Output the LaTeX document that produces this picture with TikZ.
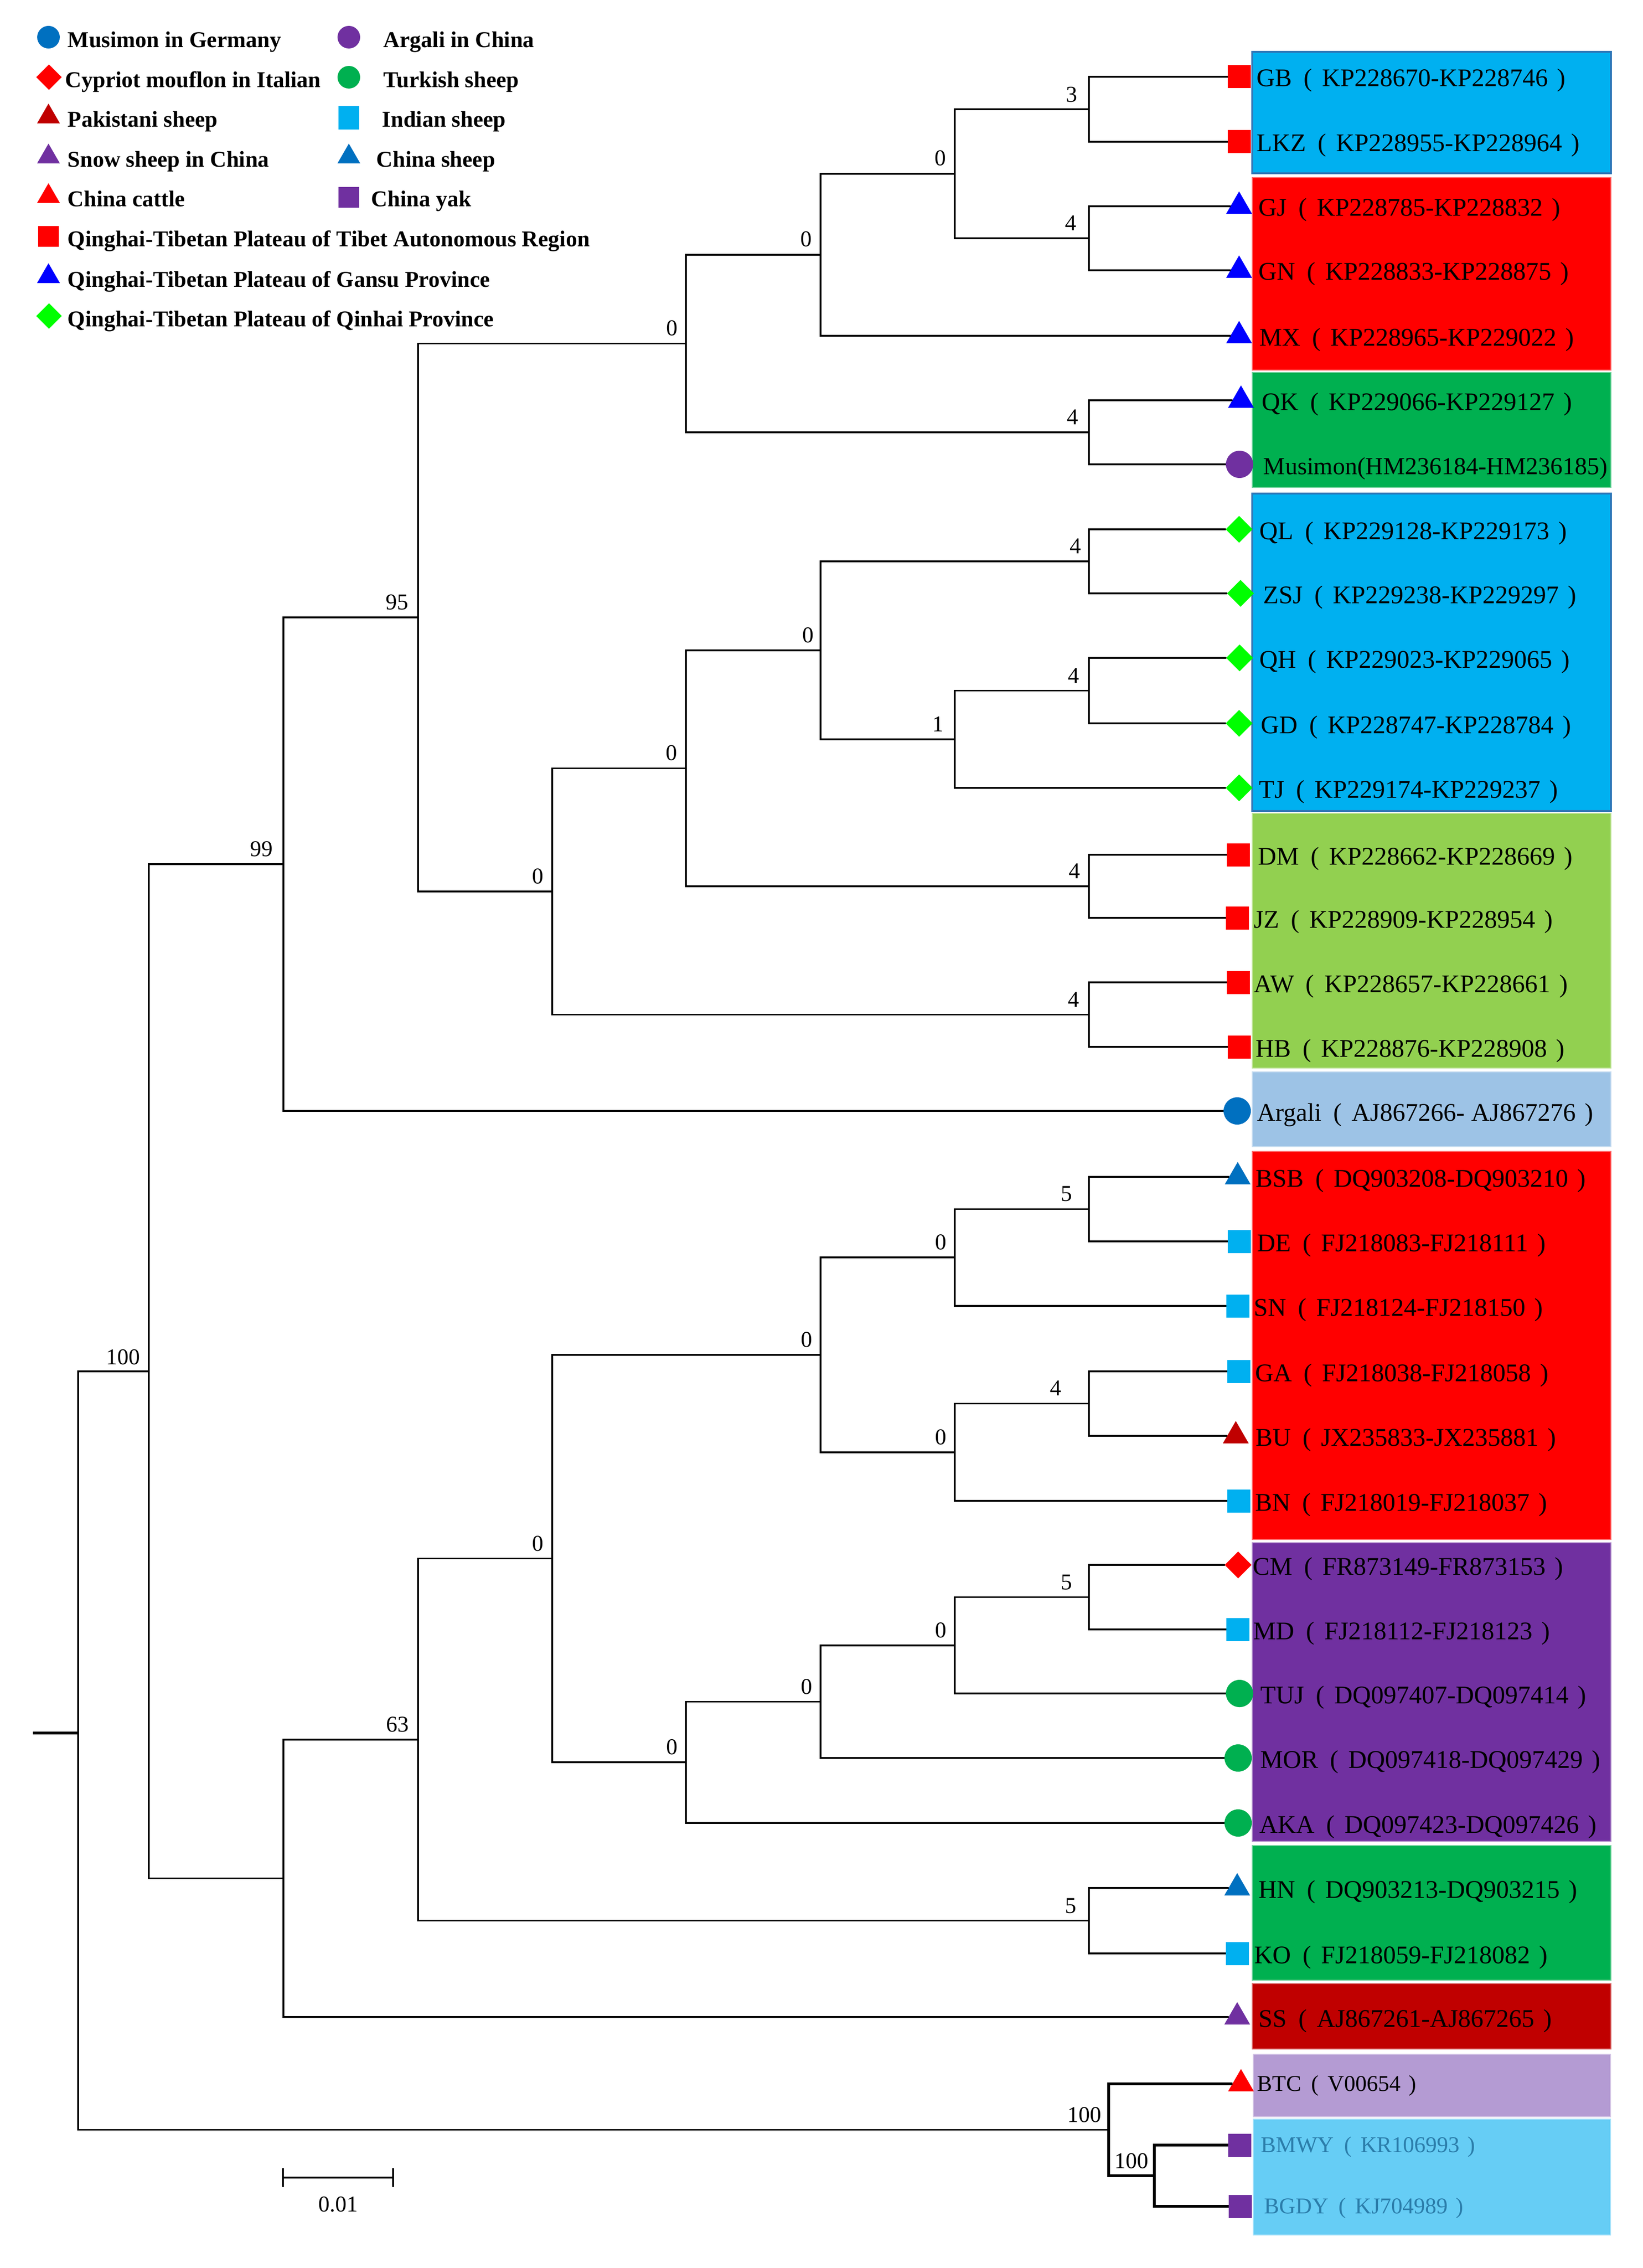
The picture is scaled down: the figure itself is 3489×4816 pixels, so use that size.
\documentclass[tikz,border=0pt]{standalone}
\usepackage{fontspec}
\setmainfont{Liberation Serif}
\usetikzlibrary{shapes.geometric}
\definecolor{cLegBlue}{HTML}{0070C0}
\definecolor{cPurple}{HTML}{7030A0}
\definecolor{cRed}{HTML}{FF0000}
\definecolor{cGreen}{HTML}{00B050}
\definecolor{cDarkRed}{HTML}{C00000}
\definecolor{cCyan}{HTML}{00B0F0}
\definecolor{cBlue}{HTML}{0000FF}
\definecolor{cLime}{HTML}{00FF00}
\definecolor{cYG}{HTML}{92D050}
\definecolor{cLightBlue}{HTML}{9DC3E6}
\definecolor{cLav}{HTML}{B49BD3}
\definecolor{cSky}{HTML}{66CDF5}
\definecolor{cTeal}{HTML}{2B7DAA}
\definecolor{cBorder}{HTML}{2E75B6}
\newcommand\myL{\hspace{0.45em}(\hspace{0.4em}}
\newcommand\myR{\hspace{0.35em})}
\begin{document}
\begin{tikzpicture}[x=0.25pt,y=-0.25pt,
  branch/.style={line width=0.9pt,black},
  thickbranch/.style={line width=1.4pt,black},
  msq/.style={rectangle,fill=#1,draw=none,inner sep=0pt,outer sep=0pt,minimum size=12.25pt},
  mtri/.style={regular polygon,regular polygon sides=3,fill=#1,draw=none,inner sep=0pt,outer sep=0pt,minimum size=15.8pt},
  mcirc/.style={circle,fill=#1,draw=none,inner sep=0pt,outer sep=0pt,minimum size=14.5pt},
  mdia/.style={diamond,fill=#1,draw=none,inner sep=0pt,outer sep=0pt,minimum size=14.25pt},
  leaflab/.style={anchor=base west,font=\fontsize{13.5}{16}\selectfont,inner sep=0pt},
  outlab/.style={anchor=base west,font=\fontsize{12}{14}\selectfont,inner sep=0pt},
  nlab/.style={anchor=base east,font=\fontsize{12}{14}\selectfont,inner sep=0pt},
  legtxt/.style={anchor=base west,font=\bfseries\fontsize{12}{14}\selectfont,inner sep=0pt},
  grp/.style={fill=#1,draw=#1!55!white,line width=0.6pt},
  grpb/.style={fill=#1,draw=cBorder,line width=0.8pt}]
\useasboundingbox (0,0) rectangle (3489,4816);
\fill[white] (0,0) rectangle (3489,4816);

% ---- coloured group boxes ----
\path[grpb=cCyan] (2660,110) rectangle (3422,368);
\path[grp=cRed] (2660,377) rectangle (3422,786);
\path[grp=cGreen] (2660,791) rectangle (3422,1035);
\path[grpb=cCyan] (2660,1048) rectangle (3422,1722);
\path[grp=cYG] (2660,1727) rectangle (3422,2268);
\path[grp=cLightBlue] (2660,2276) rectangle (3422,2435);
\path[grp=cRed] (2660,2445) rectangle (3422,3269);
\path[grp=cPurple] (2660,3276) rectangle (3422,3910);
\path[grp=cGreen] (2660,3919) rectangle (3422,4205);
\path[grp=cDarkRed] (2660,4212) rectangle (3422,4351);
\path[grp=cLav] (2662,4362) rectangle (3421,4495);
\path[grp=cSky] (2662,4500) rectangle (3421,4746);

% ---- legend ----
\node[mcirc=cLegBlue,minimum size=12pt] (lg1m) at (103,79) {};
\node[legtxt] (lg1t) at (143,101) {Musimon in Germany};
\node[mcirc=cPurple,minimum size=12pt] (lg2m) at (741,79) {};
\node[legtxt] (lg2t) at (814,101) {Argali in China};
\node[mdia=cRed,minimum size=13.5pt] (lg3m) at (104,164) {};
\node[legtxt] (lg3t) at (138,186) {Cypriot mouflon in Italian};
\node[mcirc=cGreen,minimum size=12pt] (lg4m) at (741,164) {};
\node[legtxt] (lg4t) at (814,186) {Turkish sheep};
\node[mtri=cDarkRed,minimum size=14pt] (lg5m) at (103,248) {};
\node[legtxt] (lg5t) at (143,270) {Pakistani sheep};
\node[msq=cCyan,minimum width=11pt,minimum height=12.5pt] (lg6m) at (741,250) {};
\node[legtxt] (lg6t) at (811,270) {Indian sheep};
\node[mtri=cPurple,minimum size=14pt] (lg7m) at (103,333) {};
\node[legtxt] (lg7t) at (143,355) {Snow sheep in China};
\node[mtri=cLegBlue,minimum size=14pt] (lg8m) at (741,333) {};
\node[legtxt] (lg8t) at (799,355) {China sheep};
\node[mtri=cRed,minimum size=14pt] (lg9m) at (103,417) {};
\node[legtxt] (lg9t) at (143,439) {China cattle};
\node[msq=cPurple,minimum size=11pt] (lg10m) at (741,419) {};
\node[legtxt] (lg10t) at (788,439) {China yak};
\node[msq=cRed,minimum size=11pt] (lg11m) at (103,502) {};
\node[legtxt] (lg11t) at (143,524) {Qinghai-Tibetan Plateau of Tibet Autonomous Region};
\node[mtri=cBlue,minimum size=14pt] (lg12m) at (103,587) {};
\node[legtxt] (lg12t) at (143,609) {Qinghai-Tibetan Plateau of Gansu Province};
\node[mdia=cLime,minimum size=13.5pt] (lg13m) at (104,671) {};
\node[legtxt] (lg13t) at (143,693) {Qinghai-Tibetan Plateau of Qinhai Province};

% ---- leaf markers ----
\node[msq=cRed] (GB) at (2632,163) {};
\node[msq=cRed] (LKZ) at (2632,301) {};
\node[mtri=cBlue] (GJ) at (2632,438) {};
\node[mtri=cBlue] (GN) at (2632,574) {};
\node[mtri=cBlue] (MX) at (2632,713) {};
\node[mtri=cBlue] (QK) at (2636,850) {};
\node[mcirc=cPurple] (Mus) at (2633,986) {};
\node[mdia=cLime] (QL) at (2632,1124) {};
\node[mdia=cLime] (ZSJ) at (2635,1260) {};
\node[mdia=cLime] (QH) at (2633,1397) {};
\node[mdia=cLime] (GD) at (2632,1536) {};
\node[mdia=cLime] (TJ) at (2632,1673) {};
\node[msq=cRed] (DM) at (2630,1815) {};
\node[msq=cRed] (JZ) at (2628,1949) {};
\node[msq=cRed] (AW) at (2630,2086) {};
\node[msq=cRed] (HB) at (2632,2223) {};
\node[mcirc=cLegBlue] (Arg) at (2628,2359) {};
\node[mtri=cLegBlue] (BSB) at (2629,2499) {};
\node[msq=cCyan] (DE) at (2632,2636) {};
\node[msq=cCyan] (SN) at (2629,2773) {};
\node[msq=cCyan] (GA) at (2631,2912) {};
\node[mtri=cDarkRed] (BU) at (2625,3049) {};
\node[msq=cCyan] (BN) at (2631,3187) {};
\node[mdia=cRed] (CM) at (2630,3323) {};
\node[msq=cCyan] (MD) at (2629,3460) {};
\node[mcirc=cGreen] (TUJ) at (2633,3596) {};
\node[mcirc=cGreen] (MOR) at (2630,3733) {};
\node[mcirc=cGreen] (AKA) at (2630,3871) {};
\node[mtri=cLegBlue] (HN) at (2628,4009) {};
\node[msq=cCyan] (KO) at (2628,4148) {};
\node[mtri=cPurple] (SS) at (2628,4283) {};
\node[mtri=cRed] (BTC) at (2636,4425) {};
\node[msq=cPurple] (BMWY) at (2633,4555) {};
\node[msq=cPurple] (BGDY) at (2634,4685) {};

% ---- leaf labels ----
\node[leaflab] (tGB) at (2669,184) {GB\myL KP228670-KP228746\myR};
\node[leaflab] (tLKZ) at (2669,322) {LKZ\myL KP228955-KP228964\myR};
\node[leaflab] (tGJ) at (2673,459) {GJ\myL KP228785-KP228832\myR};
\node[leaflab] (tGN) at (2673,595) {GN\myL KP228833-KP228875\myR};
\node[leaflab] (tMX) at (2675,734) {MX\myL KP228965-KP229022\myR};
\node[leaflab] (tQK) at (2680,871) {QK\myL KP229066-KP229127\myR};
\node[leaflab,font=\fontsize{13}{16}\selectfont] (tMus) at (2683,1007) {Musimon(HM236184-HM236185)};
\node[leaflab] (tQL) at (2675,1145) {QL\myL KP229128-KP229173\myR};
\node[leaflab] (tZSJ) at (2683,1281) {ZSJ\myL KP229238-KP229297\myR};
\node[leaflab] (tQH) at (2675,1418) {QH\myL KP229023-KP229065\myR};
\node[leaflab] (tGD) at (2678,1557) {GD\myL KP228747-KP228784\myR};
\node[leaflab] (tTJ) at (2674,1694) {TJ\myL KP229174-KP229237\myR};
\node[leaflab] (tDM) at (2672,1836) {DM\myL KP228662-KP228669\myR};
\node[leaflab] (tJZ) at (2663,1970) {JZ\myL KP228909-KP228954\myR};
\node[leaflab] (tAW) at (2663,2107) {AW\myL KP228657-KP228661\myR};
\node[leaflab] (tHB) at (2667,2244) {HB\myL KP228876-KP228908\myR};
\node[leaflab] (tArg) at (2670,2380) {Argali\myL AJ867266- AJ867276\myR};
\node[leaflab] (tBSB) at (2667,2520) {BSB\myL DQ903208-DQ903210\myR};
\node[leaflab] (tDE) at (2670,2657) {DE\myL FJ218083-FJ218111\myR};
\node[leaflab] (tSN) at (2663,2794) {SN\myL FJ218124-FJ218150\myR};
\node[leaflab] (tGA) at (2666,2933) {GA\myL FJ218038-FJ218058\myR};
\node[leaflab] (tBU) at (2667,3070) {BU\myL JX235833-JX235881\myR};
\node[leaflab] (tBN) at (2666,3208) {BN\myL FJ218019-FJ218037\myR};
\node[leaflab] (tCM) at (2661,3344) {CM\myL FR873149-FR873153\myR};
\node[leaflab] (tMD) at (2662,3481) {MD\myL FJ218112-FJ218123\myR};
\node[leaflab] (tTUJ) at (2677,3617) {TUJ\myL DQ097407-DQ097414\myR};
\node[leaflab] (tMOR) at (2677,3754) {MOR\myL DQ097418-DQ097429\myR};
\node[leaflab] (tAKA) at (2675,3892) {AKA\myL DQ097423-DQ097426\myR};
\node[leaflab] (tHN) at (2673,4030) {HN\myL DQ903213-DQ903215\myR};
\node[leaflab] (tKO) at (2664,4169) {KO\myL FJ218059-FJ218082\myR};
\node[leaflab] (tSS) at (2673,4304) {SS\myL AJ867261-AJ867265\myR};
\node[outlab] (tBTC) at (2670,4440) {BTC\myL V00654\myR};
\node[outlab,text=cTeal] (tBMWY) at (2678,4570) {BMWY\myL KR106993\myR};
\node[outlab,text=cTeal] (tBGDY) at (2685,4700) {BGDY\myL KJ704989\myR};

% ---- internal nodes ----
\coordinate (stub) at (70,3680);
\coordinate (R) at (166,3680);
\coordinate (nA) at (316,2911.8);
\coordinate (nB) at (602,1835.1);
\coordinate (nC) at (602,3988.5);
\coordinate (nD) at (888,1311.2);
\coordinate (nE) at (888,3694);
\coordinate (nD1) at (1457,729.5);
\coordinate (nD1a) at (1743,541);
\coordinate (nD1a1) at (2028,369);
\coordinate (nGBLKZ) at (2313,232);
\coordinate (nGJGN) at (2313,506);
\coordinate (nQKMus) at (2313,918);
\coordinate (nD2) at (1173,1893);
\coordinate (nD2a) at (1457,1631.4);
\coordinate (nD2a1) at (1743,1380.9);
\coordinate (nQLZSJ) at (2313,1192);
\coordinate (nD2a1b) at (2028,1569.75);
\coordinate (nQHGD) at (2313,1466.5);
\coordinate (nDMJZ) at (2313,1882);
\coordinate (nAWHB) at (2313,2154.5);
\coordinate (nE1) at (1173,3309.6);
\coordinate (nE1a) at (1743,2877);
\coordinate (nE1a1) at (2028,2670.25);
\coordinate (nBSBDE) at (2313,2567.5);
\coordinate (nE1a2) at (2028,3083.75);
\coordinate (nGABU) at (2313,2980.5);
\coordinate (nE1b) at (1457,3742.2);
\coordinate (nE1b1) at (1743,3613.4);
\coordinate (nE1b1a) at (2028,3493.75);
\coordinate (nCMMD) at (2313,3391.5);
\coordinate (nHNKO) at (2313,4078.5);
\coordinate (nOUT) at (2355,4522.5);
\coordinate (nOUTin) at (2452,4620);

% ---- branches ----
\draw[line width=1.5pt] (stub) -- (R);
\draw[branch] (R) |- (nA);
\draw[branch] (R) |- (nOUT);
\draw[branch] (nA) |- (nB);
\draw[branch] (nA) |- (nC);
\draw[branch] (nB) |- (nD);
\draw[branch] (nB) |- (Arg.west);
\draw[branch] (nD) |- (nD1);
\draw[branch] (nD) |- (nD2);
\draw[branch] (nD1) |- (nD1a);
\draw[branch] (nD1) |- (nQKMus);
\draw[branch] (nD1a) |- (nD1a1);
\draw[branch] (nD1a) |- (MX.west);
\draw[branch] (nD1a1) |- (nGBLKZ);
\draw[branch] (nD1a1) |- (nGJGN);
\draw[branch] (nGBLKZ) |- (GB.west);
\draw[branch] (nGBLKZ) |- (LKZ.west);
\draw[branch] (nGJGN) |- (GJ.west);
\draw[branch] (nGJGN) |- (GN.west);
\draw[branch] (nQKMus) |- (QK.west);
\draw[branch] (nQKMus) |- (Mus.west);
\draw[branch] (nD2) |- (nD2a);
\draw[branch] (nD2) |- (nAWHB);
\draw[branch] (nD2a) |- (nD2a1);
\draw[branch] (nD2a) |- (nDMJZ);
\draw[branch] (nD2a1) |- (nQLZSJ);
\draw[branch] (nD2a1) |- (nD2a1b);
\draw[branch] (nQLZSJ) |- (QL.west);
\draw[branch] (nQLZSJ) |- (ZSJ.west);
\draw[branch] (nD2a1b) |- (nQHGD);
\draw[branch] (nD2a1b) |- (TJ.west);
\draw[branch] (nQHGD) |- (QH.west);
\draw[branch] (nQHGD) |- (GD.west);
\draw[branch] (nDMJZ) |- (DM.west);
\draw[branch] (nDMJZ) |- (JZ.west);
\draw[branch] (nAWHB) |- (AW.west);
\draw[branch] (nAWHB) |- (HB.west);
\draw[branch] (nC) |- (nE);
\draw[branch] (nC) |- (SS.west);
\draw[branch] (nE) |- (nE1);
\draw[branch] (nE) |- (nHNKO);
\draw[branch] (nE1) |- (nE1a);
\draw[branch] (nE1) |- (nE1b);
\draw[branch] (nE1a) |- (nE1a1);
\draw[branch] (nE1a) |- (nE1a2);
\draw[branch] (nE1a1) |- (nBSBDE);
\draw[branch] (nE1a1) |- (SN.west);
\draw[branch] (nBSBDE) |- (BSB.west);
\draw[branch] (nBSBDE) |- (DE.west);
\draw[branch] (nE1a2) |- (nGABU);
\draw[branch] (nE1a2) |- (BN.west);
\draw[branch] (nGABU) |- (GA.west);
\draw[branch] (nGABU) |- (BU.west);
\draw[branch] (nE1b) |- (nE1b1);
\draw[branch] (nE1b) |- (AKA.west);
\draw[branch] (nE1b1) |- (nE1b1a);
\draw[branch] (nE1b1) |- (MOR.west);
\draw[branch] (nE1b1a) |- (nCMMD);
\draw[branch] (nE1b1a) |- (TUJ.west);
\draw[branch] (nCMMD) |- (CM.west);
\draw[branch] (nCMMD) |- (MD.west);
\draw[branch] (nHNKO) |- (HN.west);
\draw[branch] (nHNKO) |- (KO.west);
\draw[thickbranch] (nOUT) |- (BTC.west);
\draw[thickbranch] (nOUT) |- (nOUTin);
\draw[thickbranch] (nOUTin) |- (BMWY.west);
\draw[thickbranch] (nOUTin) |- (BGDY.west);

% ---- node support labels ----
\node[nlab] (lA) at (298,2897) {100};
\node[nlab] (lB) at (580,1818) {99};
\node[nlab] (lD) at (868,1294) {95};
\node[nlab] (lD1) at (1440,712) {0};
\node[nlab] (lD1a) at (1725,524) {0};
\node[nlab] (lD1a1) at (2010,352) {0};
\node[nlab] (lGBLKZ) at (2289,217) {3};
\node[nlab] (lGJGN) at (2287,490) {4};
\node[nlab] (lQKMus) at (2291,901) {4};
\node[nlab] (lD2) at (1155,1876) {0};
\node[nlab] (lD2a) at (1439,1614) {0};
\node[nlab] (lD2a1) at (1729,1364) {0};
\node[nlab] (lQLZSJ) at (2297,1175) {4};
\node[nlab] (lD2a1b) at (2005,1553) {1};
\node[nlab] (lQHGD) at (2293,1450) {4};
\node[nlab] (lDMJZ) at (2295,1865) {4};
\node[nlab] (lAWHB) at (2293,2138) {4};
\node[nlab] (lE) at (869,3677) {63};
\node[nlab] (lE1) at (1155,3293) {0};
\node[nlab] (lE1a) at (1726,2860) {0};
\node[nlab] (lE1a1) at (2011,2653) {0};
\node[nlab] (lBSBDE) at (2278,2550) {5};
\node[nlab] (lE1a2) at (2011,3067) {0};
\node[nlab] (lGABU) at (2255,2963) {4};
\node[nlab] (lE1b) at (1440,3725) {0};
\node[nlab] (lE1b1) at (1726,3597) {0};
\node[nlab] (lE1b1a) at (2011,3477) {0};
\node[nlab] (lCMMD) at (2278,3375) {5};
\node[nlab] (lHNKO) at (2287,4062) {5};
\node[nlab] (lOUT) at (2340,4506) {100};
\node[nlab] (lOUTin) at (2440,4604) {100};

% ---- scale bar ----
\coordinate (sbL) at (601,4624);
\coordinate (sbR) at (835,4624);
\draw[line width=1.1pt] (sbL) -- (sbR);
\draw[line width=1.1pt] ([yshift=-5pt]sbL) -- ([yshift=5pt]sbL);
\draw[line width=1.1pt] ([yshift=-5pt]sbR) -- ([yshift=5pt]sbR);
\node[font=\fontsize{12}{14}\selectfont,inner sep=0pt] (sbT) at (718,4681) {0.01};
\end{tikzpicture}
\end{document}
